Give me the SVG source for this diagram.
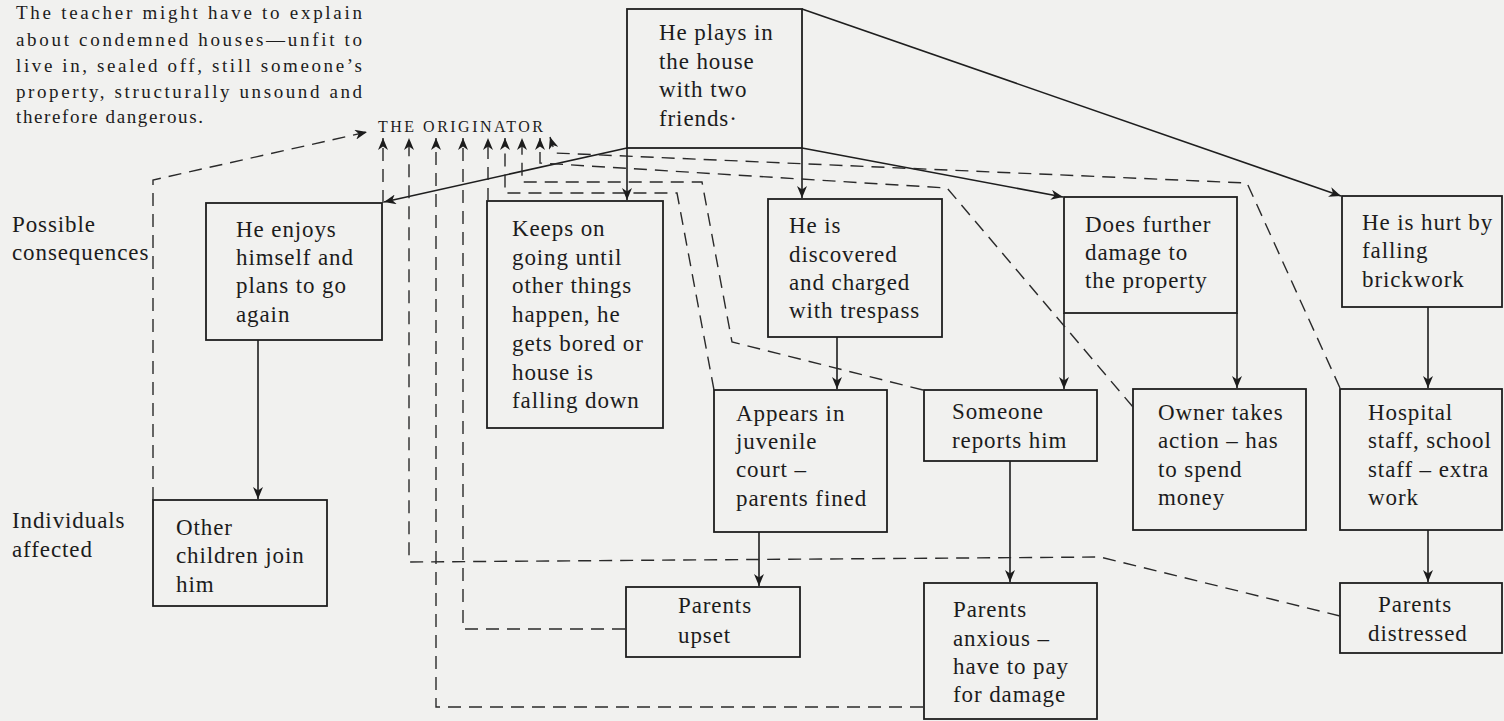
<svg xmlns="http://www.w3.org/2000/svg" width="1504" height="721" viewBox="0 0 1504 721">
<defs>
<style>
.bg{fill:#f1f1ef}
.box{fill:none;stroke:#1e1e1e;stroke-width:1.8}
.t{font-family:"Liberation Serif","Times New Roman",serif;font-size:23px;letter-spacing:0.9px;fill:#1c1c1c}
.lab{font-family:"Liberation Serif","Times New Roman",serif;font-size:23px;letter-spacing:0.9px;fill:#1c1c1c}
.note{font-family:"Liberation Serif","Times New Roman",serif;font-size:19px;fill:#1c1c1c}
.orig{font-family:"Liberation Serif","Times New Roman",serif;font-size:16px;fill:#1c1c1c}
.sol{fill:none;stroke:#1e1e1e;stroke-width:1.6;marker-end:url(#ah)}
.solp{fill:none;stroke:#1e1e1e;stroke-width:1.6}
.dash{fill:none;stroke:#2a2a2a;stroke-width:1.4;stroke-dasharray:13 8;marker-end:url(#ah)}
</style>
<marker id="ah" viewBox="0 0 12 10" refX="12" refY="5" markerWidth="12" markerHeight="10" orient="auto" markerUnits="userSpaceOnUse">
<path d="M0,0 L12,5 L0,10 L3.5,5 z" fill="#1c1c1c"/>
</marker>
</defs>
<rect class="bg" x="0" y="0" width="1504" height="721"/>

<g id="note">
<text class="note" x="16" y="19" textLength="346" lengthAdjust="spacing">The teacher might have to explain</text>
<text class="note" x="16" y="45.5" textLength="346" lengthAdjust="spacing">about condemned houses—unfit to</text>
<text class="note" x="16" y="72" textLength="346" lengthAdjust="spacing">live in, sealed off, still someone’s</text>
<text class="note" x="16" y="97.5" textLength="346" lengthAdjust="spacing">property, structurally unsound and</text>
<text class="note" x="16" y="123" textLength="187" lengthAdjust="spacing">therefore dangerous.</text>
</g>

<g id="originator">
<text class="orig" x="378" y="132" textLength="165" lengthAdjust="spacing">THE ORIGINATOR</text>
</g>

<g id="labels">
<text class="lab" x="12" y="232">Possible</text>
<text class="lab" x="12" y="260">consequences</text>
<text class="lab" x="12" y="528">Individuals</text>
<text class="lab" x="12" y="557">affected</text>
</g>

<g id="n-plays">
<rect class="box" x="627" y="9" width="175" height="139"/>
<text class="t" x="659" y="40">He plays in</text>
<text class="t" x="659" y="69">the house</text>
<text class="t" x="659" y="97">with two</text>
<text class="t" x="659" y="126">friends·</text>
</g>

<g id="n-enjoys">
<rect class="box" x="206" y="203" width="176" height="137"/>
<text class="t" x="236" y="237">He enjoys</text>
<text class="t" x="236" y="265">himself and</text>
<text class="t" x="236" y="293">plans to go</text>
<text class="t" x="236" y="322">again</text>
</g>

<g id="n-other">
<rect class="box" x="153" y="500" width="174" height="106"/>
<text class="t" x="176" y="535">Other</text>
<text class="t" x="176" y="563">children join</text>
<text class="t" x="176" y="592">him</text>
</g>

<g id="n-keeps">
<rect class="box" x="487" y="201" width="176" height="227"/>
<text class="t" x="512" y="236">Keeps on</text>
<text class="t" x="512" y="265">going until</text>
<text class="t" x="512" y="293">other things</text>
<text class="t" x="512" y="322">happen, he</text>
<text class="t" x="512" y="351">gets bored or</text>
<text class="t" x="512" y="380">house is</text>
<text class="t" x="512" y="408">falling down</text>
</g>

<g id="n-discovered">
<rect class="box" x="768" y="199" width="174" height="138"/>
<text class="t" x="789" y="233">He is</text>
<text class="t" x="789" y="262">discovered</text>
<text class="t" x="789" y="290">and charged</text>
<text class="t" x="789" y="318">with trespass</text>
</g>

<g id="n-further">
<rect class="box" x="1064" y="197" width="173" height="116"/>
<text class="t" x="1085" y="232">Does further</text>
<text class="t" x="1085" y="260">damage to</text>
<text class="t" x="1085" y="288">the property</text>
</g>

<g id="n-hurt">
<rect class="box" x="1342" y="196" width="160" height="111"/>
<text class="t" x="1362" y="230">He is hurt by</text>
<text class="t" x="1362" y="258">falling</text>
<text class="t" x="1362" y="287">brickwork</text>
</g>

<g id="n-appears">
<rect class="box" x="714" y="390" width="173" height="142"/>
<text class="t" x="736" y="421">Appears in</text>
<text class="t" x="736" y="449">juvenile</text>
<text class="t" x="736" y="477">court –</text>
<text class="t" x="736" y="506">parents fined</text>
</g>

<g id="n-someone">
<rect class="box" x="924" y="390" width="173" height="71"/>
<text class="t" x="952" y="419">Someone</text>
<text class="t" x="952" y="448">reports him</text>
</g>

<g id="n-owner">
<rect class="box" x="1133" y="389" width="173" height="141"/>
<text class="t" x="1158" y="420">Owner takes</text>
<text class="t" x="1158" y="448">action – has</text>
<text class="t" x="1158" y="477">to spend</text>
<text class="t" x="1158" y="505">money</text>
</g>

<g id="n-hospital">
<rect class="box" x="1340" y="389" width="162" height="141"/>
<text class="t" x="1368" y="420">Hospital</text>
<text class="t" x="1368" y="448">staff, school</text>
<text class="t" x="1368" y="477">staff – extra</text>
<text class="t" x="1368" y="505">work</text>
</g>

<g id="n-upset">
<rect class="box" x="626" y="587" width="174" height="70"/>
<text class="t" x="678" y="613">Parents</text>
<text class="t" x="678" y="643">upset</text>
</g>

<g id="n-anxious">
<rect class="box" x="924" y="583" width="173" height="136"/>
<text class="t" x="953" y="617">Parents</text>
<text class="t" x="953" y="646">anxious –</text>
<text class="t" x="953" y="674">have to pay</text>
<text class="t" x="953" y="702">for damage</text>
</g>

<g id="n-distressed">
<rect class="box" x="1340" y="583" width="162" height="70"/>
<text class="t" x="1378" y="612">Parents</text>
<text class="t" x="1368" y="641">distressed</text>
</g>

<g id="connectors">
<path class="sol" d="M627,148 L384,202"/>
<path class="sol" d="M627,148 L627,200"/>
<path class="sol" d="M802,148 L802,198"/>
<path class="sol" d="M802,148 L1063,197"/>
<path class="sol" d="M802,9 L1341,196"/>
<path class="sol" d="M258,340 L258,499"/>
<path class="sol" d="M837,337 L837,389"/>
<path class="sol" d="M1064,313 L1064,389"/>
<path class="sol" d="M1237,313 L1237,388"/>
<path class="sol" d="M1428,307 L1428,388"/>
<path class="sol" d="M759,532 L759,586"/>
<path class="sol" d="M1010,461 L1010,582"/>
<path class="sol" d="M1428,530 L1428,582"/>

<path class="dash" d="M383,203 L383,138"/>
<path class="dash" d="M1340,616 L1100,557 L409,562 L409,138"/>
<path class="dash" d="M923,707 L436,707 L436,138"/>
<path class="dash" d="M625,629 L463,629 L463,138"/>
<path class="dash" d="M488,201 L488,138"/>
<path class="dash" d="M714,390 L677,193 L505,193 L505,138"/>
<path class="dash" d="M923,390 L732,342 L702,182 L522,182 L522,138"/>
<path class="dash" d="M1133,407 L947,188 L540,163 L540,138"/>
<path class="dash" d="M1340,388 L1247,183 L555,153 L550,137"/>
<path class="dash" d="M153,500 L153,180 L367,132"/>
</g>
</svg>
